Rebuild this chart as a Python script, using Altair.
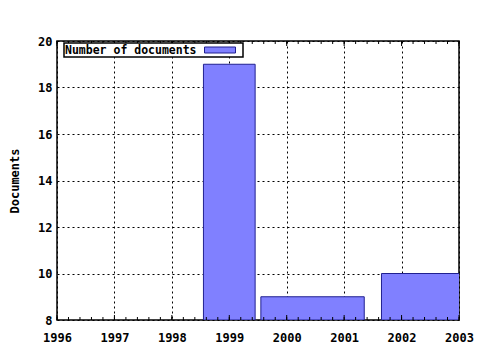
import altair as alt
import pandas as pd

# ---- data ----
years = [1996, 1997, 1998, 1999, 2000, 2001, 2002, 2003]
bar_start = [1998.55, 1999.55, 2001.65]
bar_end = [1999.45, 2001.35, 2003.35]
documents = [19, 9, 10]
y_ticks = [8, 10, 12, 14, 16, 18, 20]
minor_x = [round(1996 + i * 0.2, 1) for i in range(36)]
legend_label = ["Number of documents"]

W, H = 402, 279
FONT = "DejaVu Sans Mono"

bars_df = pd.DataFrame({"start": bar_start, "end": bar_end, "docs": documents})
major_df = pd.DataFrame({"start": years})
minor_df = pd.DataFrame({"start": minor_x})
legend_df = pd.DataFrame({"label": legend_label})

xscale = alt.Scale(domain=[1996, 2003], nice=False, zero=False)
yscale = alt.Scale(domain=[8, 20], nice=False, zero=False)
xaxis = alt.Axis(values=years, format="d", ticks=False, domain=False,
                 grid=True, gridColor="black", gridDash=[2, 3],
                 gridOpacity=1, labelPadding=12, labelFlush=False,
                 labelOverlap=False)
X = alt.X("start:Q", scale=xscale, title=None, axis=xaxis)

bars = alt.Chart(bars_df).mark_rect(
    fill="#8080ff", stroke="#202090", strokeWidth=1, clip=True
).encode(
    x=X,
    x2="end:Q",
    y=alt.Y("docs:Q", scale=yscale, title="Documents",
            axis=alt.Axis(values=y_ticks, ticks=False, domain=False,
                          grid=True, gridColor="black", gridDash=[2, 3],
                          gridOpacity=1, labelPadding=5, labelFlush=False,
                          titleX=-43, titleY=H / 2, titleAngle=270,
                          titleAlign="center", titleBaseline="middle")),
    y2=alt.datum(8),
)

def ticks(df, length, top):
    if top:
        yy, yy2 = alt.value(0), alt.value(length)
    else:
        yy, yy2 = alt.value(H), alt.value(H - length)
    return alt.Chart(df).mark_rule(color="black", strokeWidth=1).encode(
        x=X, y=yy, y2=yy2
    )

legend_box = alt.Chart(legend_df).mark_rect(
    fill="white", stroke="black", strokeWidth=1.5
).encode(x=alt.value(7), x2=alt.value(186), y=alt.value(2), y2=alt.value(16))
legend_swatch = alt.Chart(legend_df).mark_rect(
    fill="#8080ff", stroke="#202090", strokeWidth=1
).encode(x=alt.value(147.5), x2=alt.value(178.5), y=alt.value(6), y2=alt.value(12))
legend_text = alt.Chart(legend_df).mark_text(
    font=FONT, fontSize=11.5, fontWeight="bold", align="left",
    baseline="middle", color="black"
).encode(x=alt.value(8), y=alt.value(9.5), text="label:N")

chart = alt.layer(
    bars,
    ticks(major_df, 5, False), ticks(major_df, 5, True),
    ticks(minor_df, 3, False), ticks(minor_df, 3, True),
    legend_box, legend_swatch, legend_text,
).properties(
    width=W, height=H,
    autosize=alt.AutoSizeParams(type="none"),
    padding={"left": 57, "top": 41, "right": 21, "bottom": 30},
    background="white",
).configure_view(
    stroke="black", strokeWidth=1.5
).configure_axis(
    labelFont=FONT, labelFontSize=12, labelFontWeight="bold", labelColor="black",
    titleFont=FONT, titleFontSize=12, titleFontWeight="bold", titleColor="black",
)

chart.save("out.html", embed_options={"renderer": "svg", "actions": False})
